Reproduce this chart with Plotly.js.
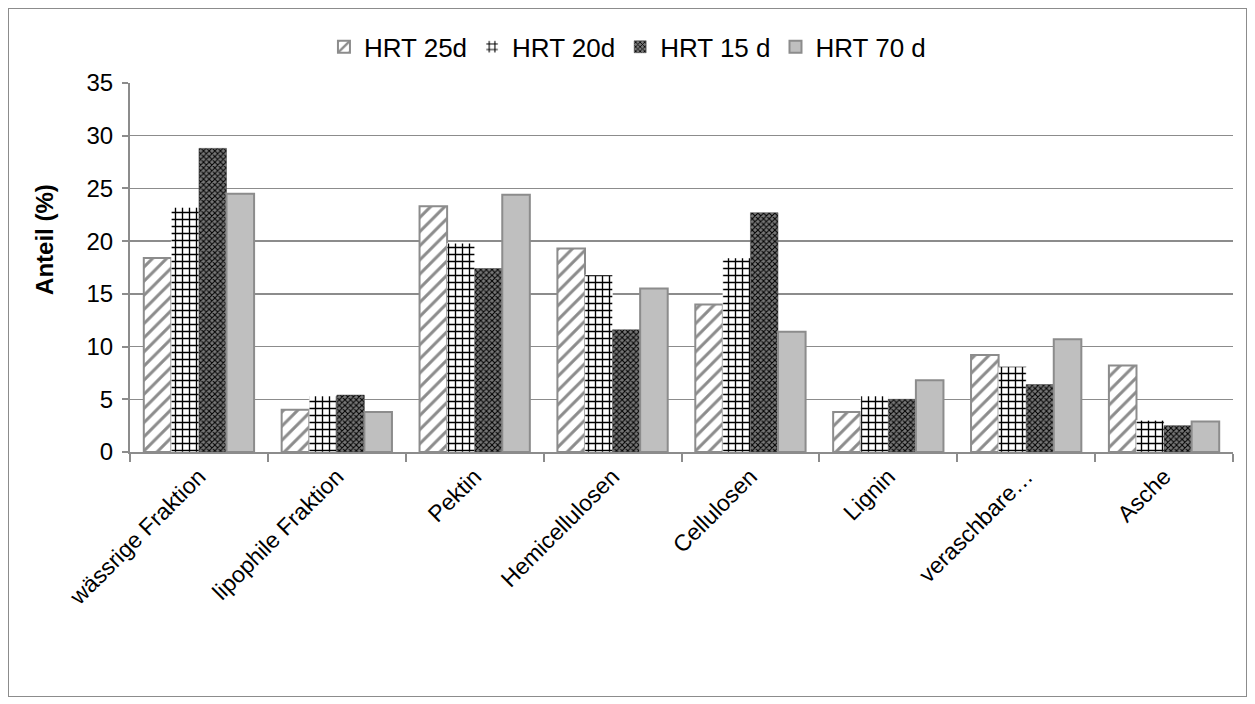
<!DOCTYPE html>
<html><head><meta charset="utf-8">
<script src="https://cdn.plot.ly/plotly-3.0.1.min.js"></script>
<style>
html,body{margin:0;padding:0;background:#fff;}
#wrap{position:absolute;left:0;top:0;width:1255px;height:704px;}
#frame{position:absolute;left:8px;top:8px;width:1237px;height:687px;border:1px solid #8c8c8c;pointer-events:none;}
#chart{width:1255px;height:704px;}
</style></head>
<body><div id="wrap"><div id="chart"></div><div id="frame"></div></div>
<script>
const categories = ["wässrige Fraktion","lipophile Fraktion","Pektin","Hemicellulosen","Cellulosen","Lignin","veraschbare…","Asche"];
const seriesNames = ["HRT 25d","HRT 20d","HRT 15 d","HRT 70 d"];
const hrt25 = [18.4, 4.0, 23.3, 19.3, 14.0, 3.8, 9.2, 8.2];
const hrt20 = [23.2, 5.3, 19.8, 16.8, 18.4, 5.3, 8.1, 3.0];
const hrt15 = [28.8, 5.4, 17.4, 11.6, 22.7, 5.0, 6.4, 2.5];
const hrt70 = [24.5, 3.8, 24.4, 15.5, 11.4, 6.8, 10.7, 2.9];
const yTicks = [0,5,10,15,20,25,30,35];
const yTitle = 'Anteil (%)';

const traces = [
  {type:'bar', name:seriesNames[0], x:categories, y:hrt25,
   marker:{color:'#ffffff', line:{color:'#8c8c8c', width:2},
     pattern:{shape:'/', fgcolor:'#8c8c8c', bgcolor:'#ffffff', size:10, solidity:0.3, fillmode:'replace'}}},
  {type:'bar', name:seriesNames[1], x:categories, y:hrt20,
   marker:{color:'#ffffff', line:{color:'#ffffff', width:0.5},
     pattern:{shape:'+', fgcolor:'#000000', bgcolor:'#ffffff', size:7, solidity:0.35, fillmode:'replace'}}},
  {type:'bar', name:seriesNames[2], x:categories, y:hrt15,
   marker:{color:'#666666', line:{color:'#444444', width:0.5},
     pattern:{shape:'x', fgcolor:'#000000', bgcolor:'#777777', size:4, solidity:0.45, fillmode:'replace'}}},
  {type:'bar', name:seriesNames[3], x:categories, y:hrt70,
   marker:{color:'#bfbfbf', line:{color:'#8c8c8c', width:2}}}
];

const layout = {
  width:1255, height:704,
  margin:{l:130, r:22, t:83, b:252},
  paper_bgcolor:'#ffffff', plot_bgcolor:'#ffffff',
  font:{family:'Liberation Sans, Arial, sans-serif', color:'#000000', size:22},
  barmode:'group', bargap:0.2, bargroupgap:0,
  showlegend:true,
  legend:{orientation:'h', x:0.451, xanchor:'center', y:1.098, yanchor:'middle', yref:'paper',
    font:{size:26}, itemwidth:30, traceorder:'normal', tracegroupgap:0},
  xaxis:{type:'category', tickangle:-45, showgrid:false, showline:true, linecolor:'#8c8c8c', linewidth:2,
    ticks:'outside', tickson:'boundaries', ticklen:8, tickcolor:'#8c8c8c', tickwidth:2,
    tickfont:{size:23}, ticklabelstandoff:0, automargin:false},
  yaxis:{range:[0,35], tickvals:yTicks, ticktext:yTicks.map(String), showgrid:true, gridcolor:'#8c8c8c', gridwidth:1.5,
    showline:true, linecolor:'#8c8c8c', linewidth:2, ticks:'outside', ticklen:6, tickcolor:'#8c8c8c', tickwidth:2,
    zeroline:false, tickfont:{size:24}, ticklabelstandoff:4, automargin:false},
  annotations:[{text:'<b>'+yTitle+'</b>', textangle:-90, xref:'paper', yref:'paper',
    x:-0.077, y:0.575, xanchor:'center', yanchor:'middle', showarrow:false, font:{size:24}}]
};
Plotly.newPlot('chart', traces, layout, {displayModeBar:false, staticPlot:true});
</script></body></html>
